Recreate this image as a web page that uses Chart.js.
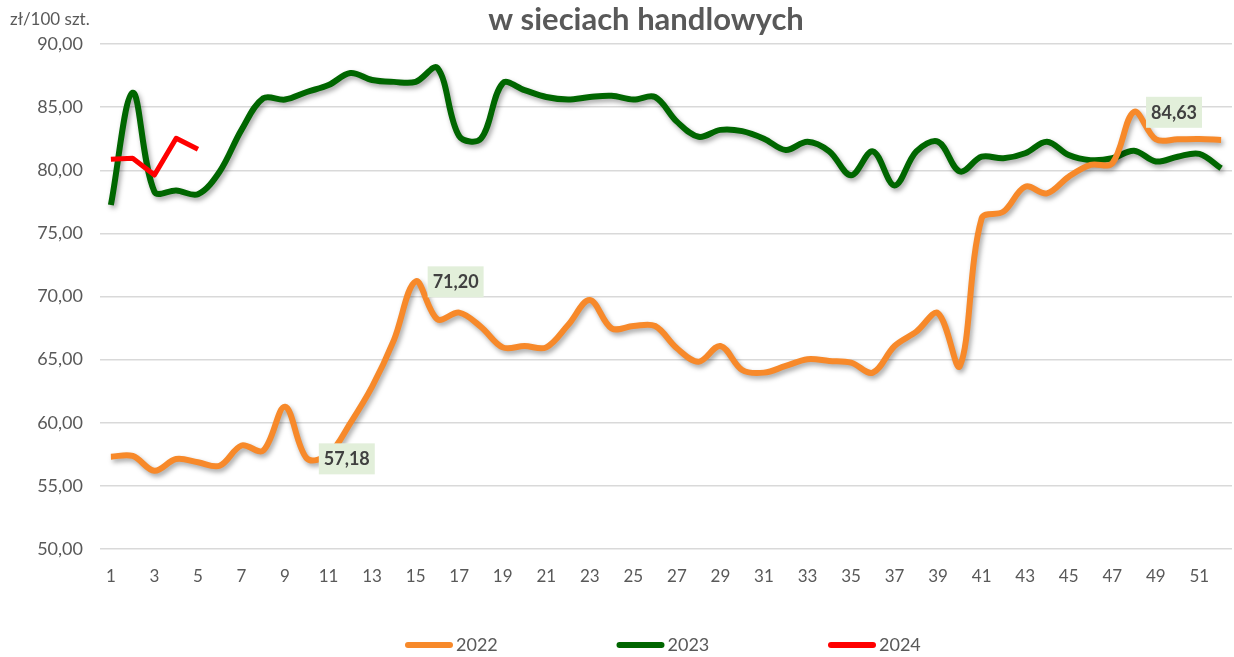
<!DOCTYPE html>
<html>
<head>
<meta charset="utf-8">
<title>w sieciach handlowych</title>
<script src="https://cdn.jsdelivr.net/npm/chart.js@4.4.1/dist/chart.umd.min.js"></script>
<style>
    html, body { margin: 0; padding: 0; background: #fff; }
    #chart-container { width: 1234px; height: 657px; }
</style>
</head>
<body>
<div id="chart-container"><canvas id="price-chart" width="1234" height="657"></canvas></div>
<script>
// weeks of the year
const weeks = ['1', '2', '3', '4', '5', '6', '7', '8', '9', '10', '11', '12', '13', '14', '15', '16', '17', '18', '19', '20',
    '21', '22', '23', '24', '25', '26', '27', '28', '29', '30', '31', '32', '33', '34', '35', '36', '37', '38', '39', '40',
    '41', '42', '43', '44', '45', '46', '47', '48', '49', '50', '51', '52'];

// zł/100 szt.
const prices2022 = [57.31, 57.37, 56.20, 57.13, 56.87, 56.60, 58.20, 57.80, 61.27, 57.18, 57.50, 59.98, 62.86, 66.55, 71.20,
    68.20, 68.72, 67.60, 65.97, 66.08, 65.97, 67.74, 69.72, 67.48, 67.66, 67.66, 65.90, 64.84, 66.08, 64.18, 63.97, 64.50,
    65.03, 64.90, 64.76, 63.97, 66.08, 67.22, 68.67, 64.50, 76.19, 76.72, 78.70, 78.17, 79.49, 80.42, 80.55, 84.63, 82.45,
    82.45, 82.47, 82.40];
const prices2023 = [77.25, 86.14, 78.30, 78.40, 78.10, 79.90, 83.20, 85.70, 85.60, 86.20, 86.75, 87.70, 87.15, 87.00, 87.00,
    88.10, 82.70, 82.50, 86.90, 86.35, 85.80, 85.60, 85.80, 85.90, 85.60, 85.80, 83.85, 82.65, 83.20, 83.10, 82.50, 81.60,
    82.26, 81.50, 79.60, 81.50, 78.80, 81.50, 82.26, 79.90, 81.07, 80.95, 81.35, 82.26, 81.20, 80.80, 80.95, 81.55, 80.70,
    81.07, 81.30, 80.15];
const prices2024 = [80.87, 80.95, 79.62, 82.53, 81.66];

// weeks of 2022 that get a value label
const labelledWeeks2022 = [10, 15, 48];

const yTicks = [50, 55, 60, 65, 70, 75, 80, 85, 90];

const FONT = "Lato, 'Open Sans', sans-serif";
const GREY = '#595959';

function formatPl(v) {
    return v.toFixed(2).replace('.', ',');
}

const decorations = {
    id: 'decorations',
    beforeDatasetDraw(chart, args) {
        if (!chart.data.datasets[args.index].shadow)
            return;
        const ctx = chart.ctx;
        ctx.save();
        ctx.shadowColor = 'rgba(0, 0, 0, 0.35)';
        ctx.shadowBlur = 5;
        ctx.shadowOffsetX = 2;
        ctx.shadowOffsetY = 3;
    },
    afterDatasetDraw(chart, args) {
        if (chart.data.datasets[args.index].shadow)
            chart.ctx.restore();
    },
    afterDatasetsDraw(chart) {
        const ctx = chart.ctx;
        const meta = chart.getDatasetMeta(0);
        ctx.save();
        ctx.font = `bold 18px ${FONT}`;
        ctx.textBaseline = 'middle';
        labelledWeeks2022.forEach(week => {
            const point = meta.data[week - 1];
            const text = formatPl(chart.data.datasets[0].data[week - 1]);
            const w = ctx.measureText(text).width + 10;
            const left = point.x + 12;
            ctx.fillStyle = '#E2EFDA';
            ctx.fillRect(left, point.y - 15, w, 31);
            ctx.fillStyle = '#404040';
            ctx.fillText(text, left + 5, point.y + 1);
        });
        ctx.restore();
    },
    afterDraw(chart) {
        const ctx = chart.ctx;
        ctx.save();
        // title
        ctx.fillStyle = GREY;
        ctx.textAlign = 'center';
        ctx.textBaseline = 'middle';
        ctx.font = `bold 31px ${FONT}`;
        ctx.fillText('w sieciach handlowych', 646, 20);
        // unit
        ctx.textAlign = 'left';
        ctx.font = `17px ${FONT}`;
        ctx.fillText('zł/100 szt.', 10, 20);
        // legend
        let x = 405;
        ctx.font = `18px ${FONT}`;
        chart.data.datasets.forEach(ds => {
            ctx.strokeStyle = ds.borderColor;
            ctx.lineWidth = 6;
            ctx.lineCap = 'round';
            ctx.beginPath();
            ctx.moveTo(x + 3, 645);
            ctx.lineTo(x + 45, 645);
            ctx.stroke();
            ctx.fillStyle = GREY;
            ctx.fillText(ds.label, x + 51, 645);
            x += 211.5;
        });
        ctx.restore();
    }
};

const context = document.getElementById('price-chart').getContext('2d');
const chart = new Chart(context, {
    type: 'line',
    data: {
        labels: weeks,
        datasets: [
            {
                label: '2022',
                data: prices2022,
                borderColor: '#F7892A',
                borderWidth: 6,
                tension: 0.35,
                pointRadius: 0,
                shadow: true,
                order: 1
            },
            {
                label: '2023',
                data: prices2023,
                borderColor: '#006600',
                borderWidth: 6,
                tension: 0.35,
                pointRadius: 0,
                shadow: true,
                order: 2
            },
            {
                label: '2024',
                data: prices2024,
                borderColor: '#FF0000',
                borderWidth: 5,
                tension: 0,
                pointRadius: 0,
                borderJoinStyle: 'round',
                order: 0
            }
        ]
    },
    options: {
        responsive: false,
        animation: false,
        layout: {
            padding: { top: 44, right: 2, left: 0, bottom: 0 }
        },
        plugins: {
            legend: { display: false },
            title: { display: false },
            tooltip: { enabled: false }
        },
        scales: {
            x: {
                offset: true,
                grid: { display: false },
                border: { display: false },
                ticks: {
                    autoSkip: false,
                    maxRotation: 0,
                    padding: 9,
                    color: GREY,
                    font: { family: FONT, size: 17 },
                    callback: function (value, index) {
                        return index % 2 === 0 ? this.getLabelForValue(value) : '';
                    }
                },
                afterFit: scale => { scale.height = 108; }
            },
            y: {
                min: 50,
                max: 90,
                afterBuildTicks: scale => { scale.ticks = yTicks.map(v => ({ value: v })); },
                grid: { color: '#D9D9D9', lineWidth: 1.5, drawTicks: false },
                border: { display: false },
                ticks: {
                    padding: 17,
                    color: GREY,
                    font: { family: FONT, size: 18 },
                    callback: value => formatPl(value)
                },
                afterFit: scale => { scale.width = 100; }
            }
        }
    },
    plugins: [decorations]
});
</script>
</body>
</html>
